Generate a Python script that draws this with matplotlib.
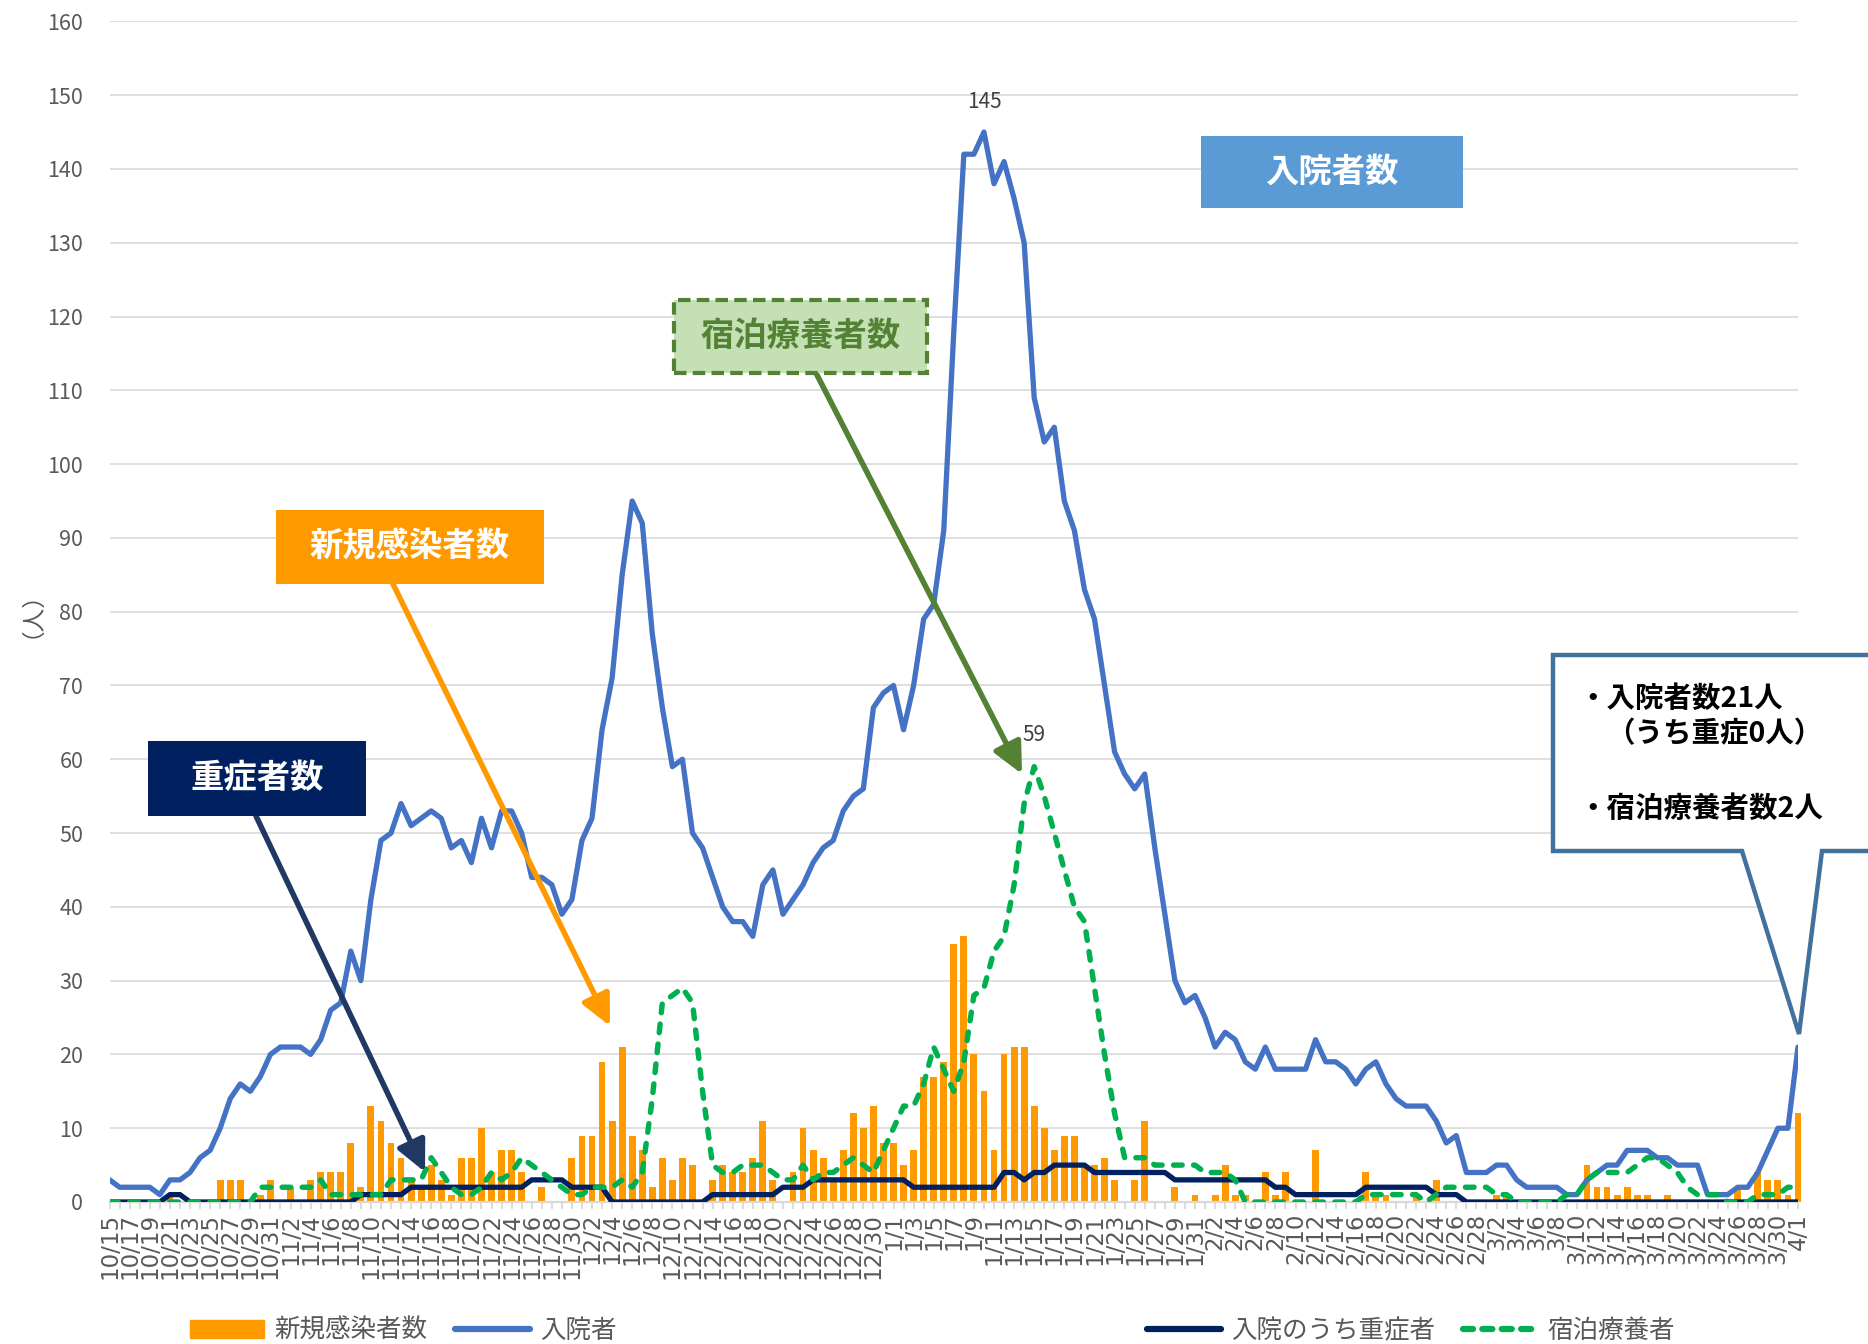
import matplotlib
matplotlib.use('Agg')
import matplotlib.pyplot as plt
import numpy as np
import pandas as pd
from matplotlib.patches import Rectangle, Polygon, FancyArrowPatch, Patch
from matplotlib.lines import Line2D

plt.rcParams['font.family'] = ['Noto Sans CJK JP', 'DejaVu Sans']

# ---------------- data ----------------
dates = pd.date_range('2020-10-15', '2021-04-01', freq='D')
date_labels = [f"{d.month}/{d.day}" for d in dates]

new_cases = ([0,0,0,0,0,0,1,0,0,0,0,3,3,3,0,1,3] +
             [0,2,0,3,4,4,4,8,2,13, 11,8,6,3,2,5,3,1,6,6, 10,4,7,7,4,0,2,0,0,6] +
             [9,9,19,11,21,9,7,2,6,3, 6,5,0,3,5,4,4,6,11,3, 0,4,10,7,6,3,7,12,10,13, 8] +
             [8,5,7,17,17,19,35,36,20,15, 7,20,21,21,13,10,7,9,9,5, 5,6,3,0,3,11,0,0,2,0, 1] +
             [0,1,5,1,1,0,4,1,4,0, 0,7,0,0,0,0,4,1,1,0, 0,1,0,3,0,0,0,0] +
             [0,1,1,0,0,0,0,0,0,0, 5,2,2,1,2,1,1,0,1,0, 0,0,0,0,0,2,0,4,3,3, 1] +
             [12])

hospitalized = ([3,2,2,2,2,1,3,3,4,6,7,10,14,16,15,17,20] +
                [21,21,21,20,22,26,27,34,30,41, 49,50,54,51,52,53,52,48,49,46, 52,48,53,53,50,44,44,43,39,41] +
                [49,52,64,71,85,95,92,77,67,59, 60,50,48,44,40,38,38,36,43,45, 39,41,43,46,48,49,53,55,56,67, 69] +
                [70,64,70,79,81,91,118,142,142,145, 138,141,136,130,109,103,105,95,91,83, 79,70,61,58,56,58,48,39,30,27, 28] +
                [25,21,23,22,19,18,21,18,18,18, 18,22,19,19,18,16,18,19,16,14, 13,13,13,11,8,9,4,4] +
                [4,5,5,3,2,2,2,2,1,1, 3,4,5,5,7,7,7,6,6,5, 5,5,1,1,1,2,2,4,7,10, 10] +
                [21])

severe = ([0,0,0,0,0,0,1,1,0,0,0,0,0,0,0,0,0] +
          [0,0,0,0,0,0,0,0,1,1, 1,1,1,2,2,2,2,2,2,2, 2,2,2,2,2,3,3,3,3,2] +
          [2,2,2,0,0,0,0,0,0,0, 0,0,0,1,1,1,1,1,1,1, 2,2,2,3,3,3,3,3,3,3, 3] +
          [3,3,2,2,2,2,2,2,2,2, 2,4,4,3,4,4,5,5,5,5, 4,4,4,4,4,4,4,4,3,3, 3] +
          [3,3,3,3,3,3,3,2,2,1, 1,1,1,1,1,1,2,2,2,2, 2,2,2,1,1,1,0,0] +
          [0]*31 +
          [0])

hotel = ([0,0,0,0,0,0,0,0,0,0,0,0,0,0,0,2,2] +
         [2,2,2,2,3,1,1,1,1,1, 1,3,3,3,3,6,4,2,1,1, 2,4,3,4,6,5,4,3,2,1] +
         [1,2,2,2,3,2,4,14,27,28, 29,27,15,5,4,4,5,5,5,4, 3,3,5,3,4,4,5,6,5,4, 7] +
         [10,13,13,16,21,18,15,19,28,29, 34,36,43,54,59,55,50,45,40,38, 29,20,12,6,6,6,5,5,5,5, 5] +
         [4,4,4,3,0,0,0,0,0,0, 0,0,0,0,0,0,1,1,1,1, 1,1,0,1,2,2,2,2] +
         [2,1,1,0,0,0,0,0,1,1, 3,4,4,4,4,5,6,6,5,4, 2,1,1,1,0,0,0,1,1,1, 2] +
         [2])

y_ticks = list(range(0, 161, 10))
legend_labels = ['新規感染者数', '入院者', '入院のうち重症者', '宿泊療養者']

# ---------------- figure ----------------
W, H = 1868, 1344
fig = plt.figure(figsize=(W / 100, H / 100), dpi=100)
ax = fig.add_axes([109.6 / W, 1 - 1202 / H, (1798 - 109.6) / W, (1202 - 21.4) / H])

x = np.arange(len(dates))
c_orange = '#FF9900'
c_blue = '#4472C4'
c_navy = '#002060'
c_green = '#00B050'

ax.bar(x, new_cases, width=0.68, color=c_orange, zorder=2, clip_on=False)
ax.plot(x, hospitalized, color=c_blue, lw=3.8, zorder=3, solid_joinstyle='round', solid_capstyle='round')
ax.plot(x, severe, color=c_navy, lw=3.8, zorder=4, solid_joinstyle='round')
ax.plot(x, hotel, color=c_green, lw=3.9, ls=(0, (1.6, 2.1)), dash_capstyle='round', zorder=5)

ax.set_xlim(0, len(dates) - 1)
ax.set_ylim(0, 160)
ax.set_yticks(y_ticks)
ax.grid(axis='y', color='#D9D9D9', lw=1.2)
ax.set_axisbelow(True)
for s in ['top', 'right', 'left']:
    ax.spines[s].set_visible(False)
ax.spines['bottom'].set_color('#D9D9D9')
ax.spines['bottom'].set_linewidth(1.6)
ax.tick_params(axis='y', length=0, pad=19, labelsize=15.5, labelcolor='#595959')
ax.set_xticks(x[::2])
ax.set_xticklabels(date_labels[::2], rotation=90, fontsize=16.5, color='#595959',
                   family='DejaVu Sans')
ax.set_xticks(x, minor=True)
ax.tick_params(axis='x', which='both', length=5, color='#D9D9D9', width=1.3, pad=3)

ax.text(-0.053, 0.508, '（人）', transform=ax.transAxes, rotation=90, fontsize=17,
        color='#595959', ha='center', va='center')

# data labels
ax.annotate(str(max(hospitalized)), xy=(int(np.argmax(hospitalized)), max(hospitalized)),
            xytext=(0, 22), textcoords='offset points', ha='center', va='center',
            fontsize=15, color='#404040')
ax.annotate(str(max(hotel)), xy=(int(np.argmax(hotel)), max(hotel)),
            xytext=(0, 23), textcoords='offset points', ha='center', va='center',
            fontsize=15, color='#404040')

# ---------------- annotation boxes (figure pixel geometry) ----------------
def fx(px):
    return px / W

def fy(py):
    return 1 - py / H

def box(x0, y0, x1, y1, text, fc, tc, ec=None, ls='-', lw=0):
    r = Rectangle((fx(x0), fy(y1)), fx(x1) - fx(x0), fy(y0) - fy(y1), transform=fig.transFigure,
                  facecolor=fc, edgecolor=ec if ec else fc, linestyle=ls, linewidth=lw, zorder=20)
    fig.add_artist(r)
    fig.text(fx((x0 + x1) / 2), fy((y0 + y1) / 2), text, ha='center', va='center',
             fontsize=24, fontweight='bold', color=tc, zorder=21)

def arrow(x0, y0, x1, y1, color):
    a = FancyArrowPatch((fx(x0), fy(y0)), (fx(x1), fy(y1)), transform=fig.transFigure,
                        arrowstyle='-|>,head_length=0.62,head_width=0.3', mutation_scale=30,
                        color=color, lw=4.0, shrinkA=0, shrinkB=0, zorder=19)
    fig.add_artist(a)

arrow(393, 584, 610, 1026, c_orange)
arrow(256, 816, 425, 1172, '#1F3864')
arrow(816, 373, 1022, 774, '#548235')

box(1201, 136, 1463, 208, '入院者数', '#5B9BD5', 'white')
box(674, 300, 927, 373, '宿泊療養者数', '#C5E0B4', '#548235', ec='#548235', ls=(0, (3, 1.5)), lw=3)
box(276, 510, 544, 584, '新規感染者数', c_orange, 'white')
box(148, 741, 366, 816, '重症者数', c_navy, 'white')

# callout box
pts = [(1553, 655), (1875, 655), (1875, 851), (1822, 851), (1799, 1034), (1742, 851), (1553, 851)]
poly = Polygon([(fx(px), fy(py)) for px, py in pts], closed=True, transform=fig.transFigure,
               facecolor='white', edgecolor='#41719C', lw=3.2, zorder=20, joinstyle='miter')
fig.add_artist(poly)
fig.text(fx(1578), fy(699), '・入院者数21人', ha='left', va='center', fontsize=20.5,
         fontweight='bold', color='black', zorder=21)
fig.text(fx(1714), fy(734), '（うち重症0人）', ha='center', va='center', fontsize=20.5,
         fontweight='bold', color='black', zorder=21)
fig.text(fx(1578), fy(809), '・宿泊療養者数2人', ha='left', va='center', fontsize=20.5,
         fontweight='bold', color='black', zorder=21)

# ---------------- legend ----------------
h_orange = Patch(facecolor=c_orange, edgecolor=c_orange)
h_blue = Line2D([], [], color=c_blue, lw=4.5, solid_capstyle='round')
h_navy = Line2D([], [], color=c_navy, lw=4.5, solid_capstyle='round')
h_green = Line2D([], [], color=c_green, lw=4.5, ls=(0, (1.6, 1.5)), dash_capstyle='round')
lg1 = fig.legend([h_orange, h_blue], legend_labels[:2], loc='center left',
                 bbox_to_anchor=(fx(190), fy(1331)), ncol=2, frameon=False, fontsize=18.4,
                 handlelength=2.9, handletextpad=0.4, columnspacing=1.1, labelcolor='#595959',
                 borderpad=0, borderaxespad=0)
lg2 = fig.legend([h_navy, h_green], legend_labels[2:], loc='center left',
                 bbox_to_anchor=(fx(1147), fy(1331)), ncol=2, frameon=False, fontsize=18.4,
                 handlelength=2.9, handletextpad=0.4, columnspacing=1.1, labelcolor='#595959',
                 borderpad=0, borderaxespad=0)

fig.savefig('out.png', dpi=100)
